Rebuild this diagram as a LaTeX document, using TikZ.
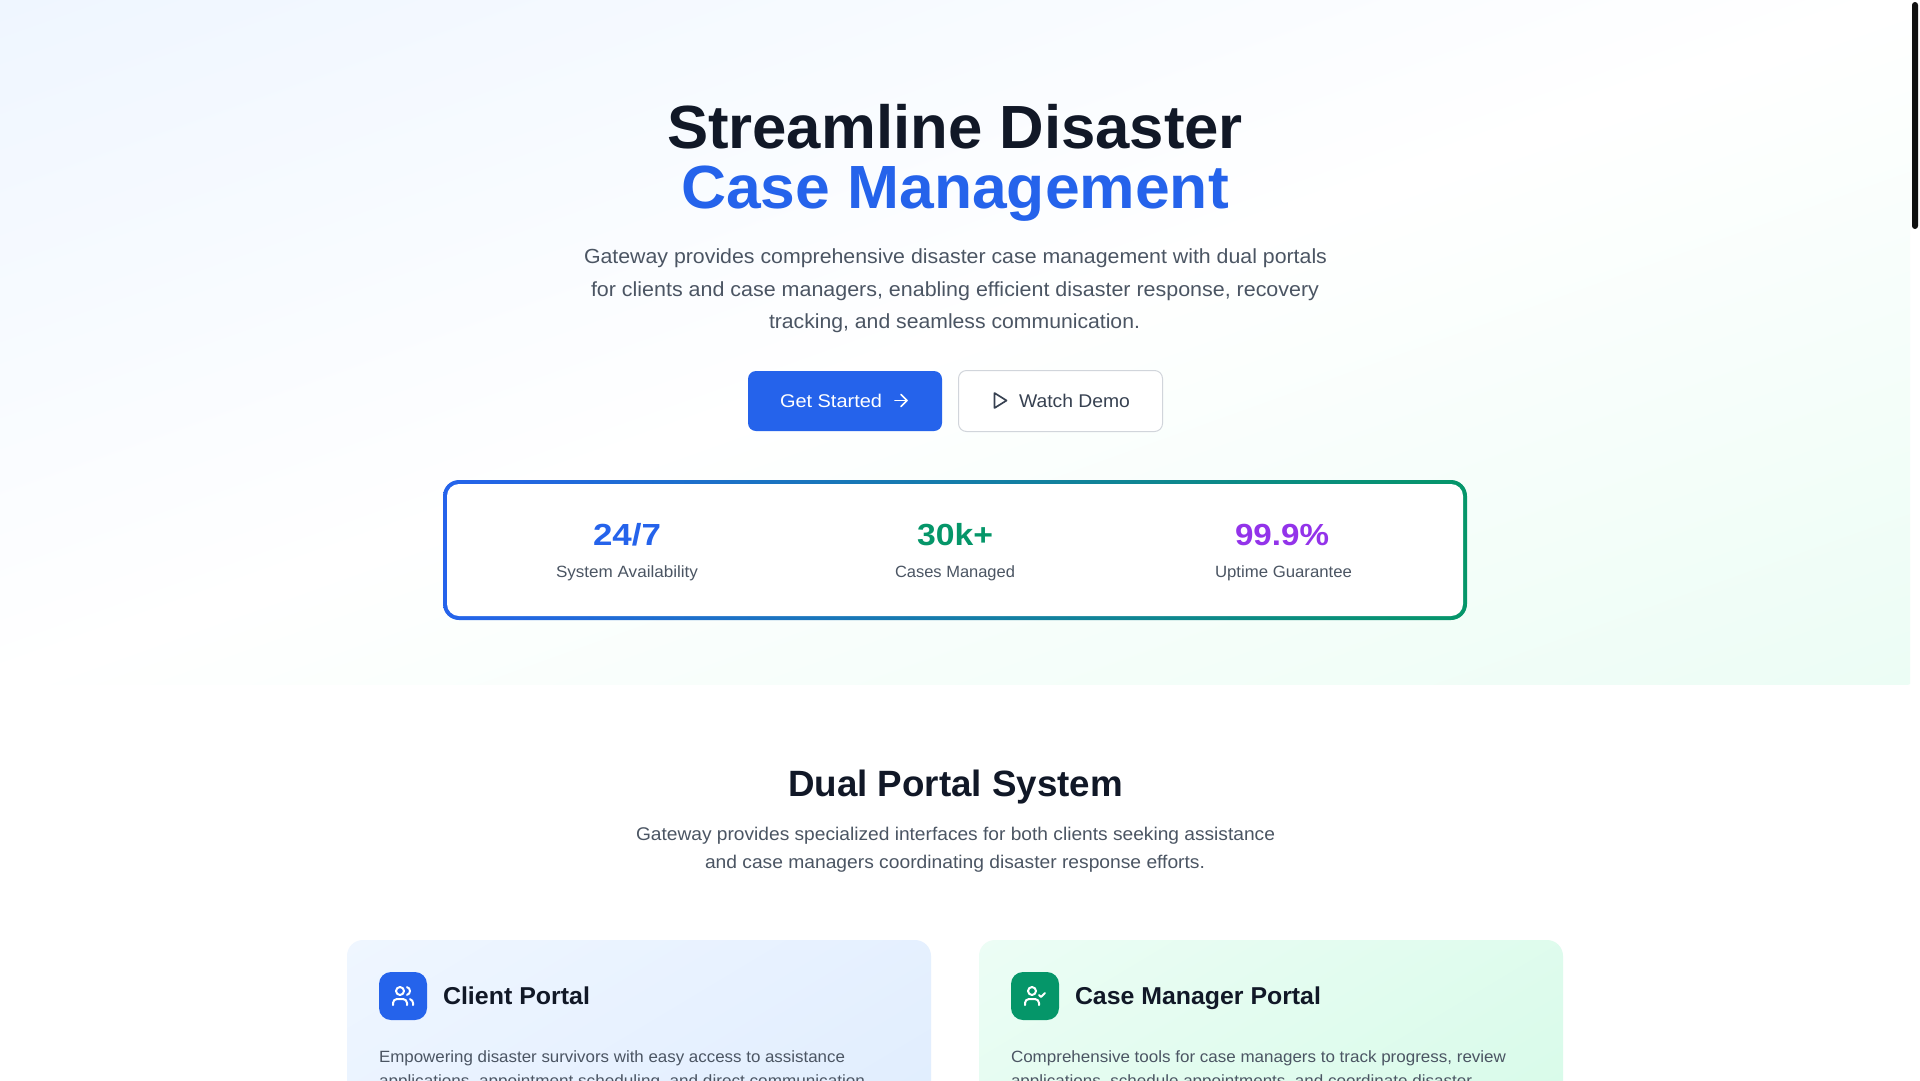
\documentclass[tikz,border=0pt]{standalone}
\usepackage{fontspec}
\usepackage{graphicx}
\setmainfont{Liberation Sans}
\definecolor{ink}{HTML}{111827}
\definecolor{brand}{HTML}{2563EB}
\definecolor{leaf}{HTML}{059669}
\definecolor{grape}{HTML}{9333EA}
\definecolor{body}{HTML}{4B5563}
\definecolor{btnink}{HTML}{374151}
\definecolor{btnline}{HTML}{D1D5DB}
\definecolor{heroa}{HTML}{EFF6FF}
\definecolor{herob}{HTML}{ECFDF5}
\definecolor{carda}{HTML}{EFF6FF}
\definecolor{cardb}{HTML}{DBEAFE}
\definecolor{cardc}{HTML}{ECFDF5}
\definecolor{cardd}{HTML}{D1FAE5}
\definecolor{thumb}{HTML}{111111}
% name, left, right, baseline, size, colour, series command, text
\newcommand\T[8]{%
  \pgfmathsetlengthmacro\twid{#3pt-#2pt}%
  \node[anchor=base west,inner sep=0pt,outer sep=0pt,text=#6] (#1) at (#2,#4)
    {\resizebox{\twid}{\height}{\fontsize{#5}{#5}\selectfont#7\relax #8}};%
}
% corner-to-corner gradient: centre x, centre y, half width/100, half height/100, shade colours
\newcommand\cornershade[5]{%
  \shade[transform canvas={shift={(#1,#2)},xscale=#3,yscale=#4,rotate=-45},#5]
    (-141.43,-141.43) rectangle (141.43,141.43);%
}
\tikzset{
  iconline/.style={line width=2pt,line cap=round,line join=round,draw=white},
  thinline/.style={line width=1.67pt,line cap=round,line join=round}
}
\begin{document}
\begin{tikzpicture}[x=1pt,y=-1pt]
\useasboundingbox (0,0) rectangle (1920,1080);
\clip (0,0) rectangle (1920,1080);
\fill[white] (0,0) rectangle (1920,1080);
% hero background
\begin{scope}
  \clip (0,0) rectangle (1910,684);
  \cornershade{955}{342}{9.55}{3.42}{left color=heroa,right color=herob,middle color=white}
\end{scope}
% scrollbar
\fill[thumb,rounded corners=3pt] (1912,2) rectangle (1918,229);
% hero title
\T{titlea}{667}{1243}{148}{61}{ink}{\bfseries}{Streamline Disaster}
\T{titleb}{681}{1229}{208}{61}{brand}{\bfseries}{Case Management}
\T{descA}{584}{1327}{263}{20.4}{body}{}{Gateway provides comprehensive disaster case management with dual portals}
\T{descB}{591}{1319}{296}{20.4}{body}{}{for clients and case managers, enabling efficient disaster response, recovery}
\T{descC}{769}{1140}{328}{20.4}{body}{}{tracking, and seamless communication.}
% buttons
\fill[brand,rounded corners=8pt] (748,371) rectangle (942,431);
\T{btnA}{780}{882}{407}{18.4}{white}{}{Get Started}
\draw[thinline,draw=white] (895,400.5) -- (907,400.5);
\draw[thinline,draw=white] (901,394.5) -- (907,400.5) -- (901,406.5);
\fill[white,rounded corners=8pt] (958.5,370.5) rectangle (1162.5,431.5);
\draw[btnline,line width=1pt,rounded corners=8pt] (958.5,370.5) rectangle (1162.5,431.5);
\T{btnB}{1019}{1130}{407}{18.4}{btnink}{}{Watch Demo}
\draw[thinline,draw=btnink] (994.5,393) -- (1006.5,400.5) -- (994.5,408) -- cycle;
% stats
\shade[left color=brand,right color=leaf,rounded corners=16pt] (443,480) rectangle (1467,620);
\fill[white,rounded corners=12pt] (447,484) rectangle (1463,616);
\T{statA}{593}{661}{545}{30.5}{brand}{\bfseries}{24/7}
\T{statB}{917}{993}{545}{30.5}{leaf}{\bfseries}{30k+}
\T{statC}{1235}{1329}{545}{30.5}{grape}{\bfseries}{99.9\%}
\T{labA}{556}{698}{577}{16.3}{body}{}{System Availability}
\T{labB}{895}{1015}{577}{16.3}{body}{}{Cases Managed}
\T{labC}{1215}{1352}{577}{16.3}{body}{}{Uptime Guarantee}
% section heading
\T{secT}{788}{1123}{796}{36.6}{ink}{\bfseries}{Dual Portal System}
\T{secA}{636}{1275}{840}{18.4}{body}{}{Gateway provides specialized interfaces for both clients seeking assistance}
\T{secB}{705}{1205}{868}{18.4}{body}{}{and case managers coordinating disaster response efforts.}
% cards
\begin{scope}
  \clip[rounded corners=16pt] (347,940) rectangle (931,1290);
  \cornershade{639}{1115}{2.92}{1.75}{left color=carda,right color=cardb}
\end{scope}
\begin{scope}
  \clip[rounded corners=16pt] (979,940) rectangle (1563,1290);
  \cornershade{1271}{1115}{2.92}{1.75}{left color=cardc,right color=cardd}
\end{scope}
\fill[brand,rounded corners=12pt] (379,972) rectangle (427,1020);
\fill[leaf,rounded corners=12pt] (1011,972) rectangle (1059,1020);
% users icon
\begin{scope}[shift={(391,984)}]
  \draw[iconline,rounded corners=4pt] (16,21) -- (16,15) -- (2,15) -- (2,21);
  \draw[iconline] (9,7) circle[radius=4pt];
  \draw[iconline] (22,21) -- (22,19) .. controls (22,17.2) and (20.7,15.6) .. (19,15.13);
  \draw[iconline] (16,3.13) .. controls (17.8,3.6) and (19,5.1) .. (19,7) .. controls (19,8.9) and (17.8,10.4) .. (16,10.88);
\end{scope}
% user-check icon
\begin{scope}[shift={(1023,984)}]
  \draw[iconline,rounded corners=4pt] (16,21) -- (16,15) -- (2,15) -- (2,21);
  \draw[iconline] (9,7) circle[radius=4pt];
  \draw[iconline] (16,11) -- (18,13) -- (22,9);
\end{scope}
\T{cardA}{443}{590}{1004}{24.4}{ink}{\bfseries}{Client Portal}
\T{cardB}{1075}{1321}{1004}{24.4}{ink}{\bfseries}{Case Manager Portal}
\T{bodyA}{379}{845}{1062}{16.3}{body}{}{Empowering disaster survivors with easy access to assistance}
\T{bodyB}{379}{865}{1086}{16.3}{body}{}{applications, appointment scheduling, and direct communication}
\T{bodyC}{1011}{1506}{1062}{16.3}{body}{}{Comprehensive tools for case managers to track progress, review}
\T{bodyD}{1011}{1472}{1086}{16.3}{body}{}{applications, schedule appointments, and coordinate disaster}
\end{tikzpicture}
\end{document}
